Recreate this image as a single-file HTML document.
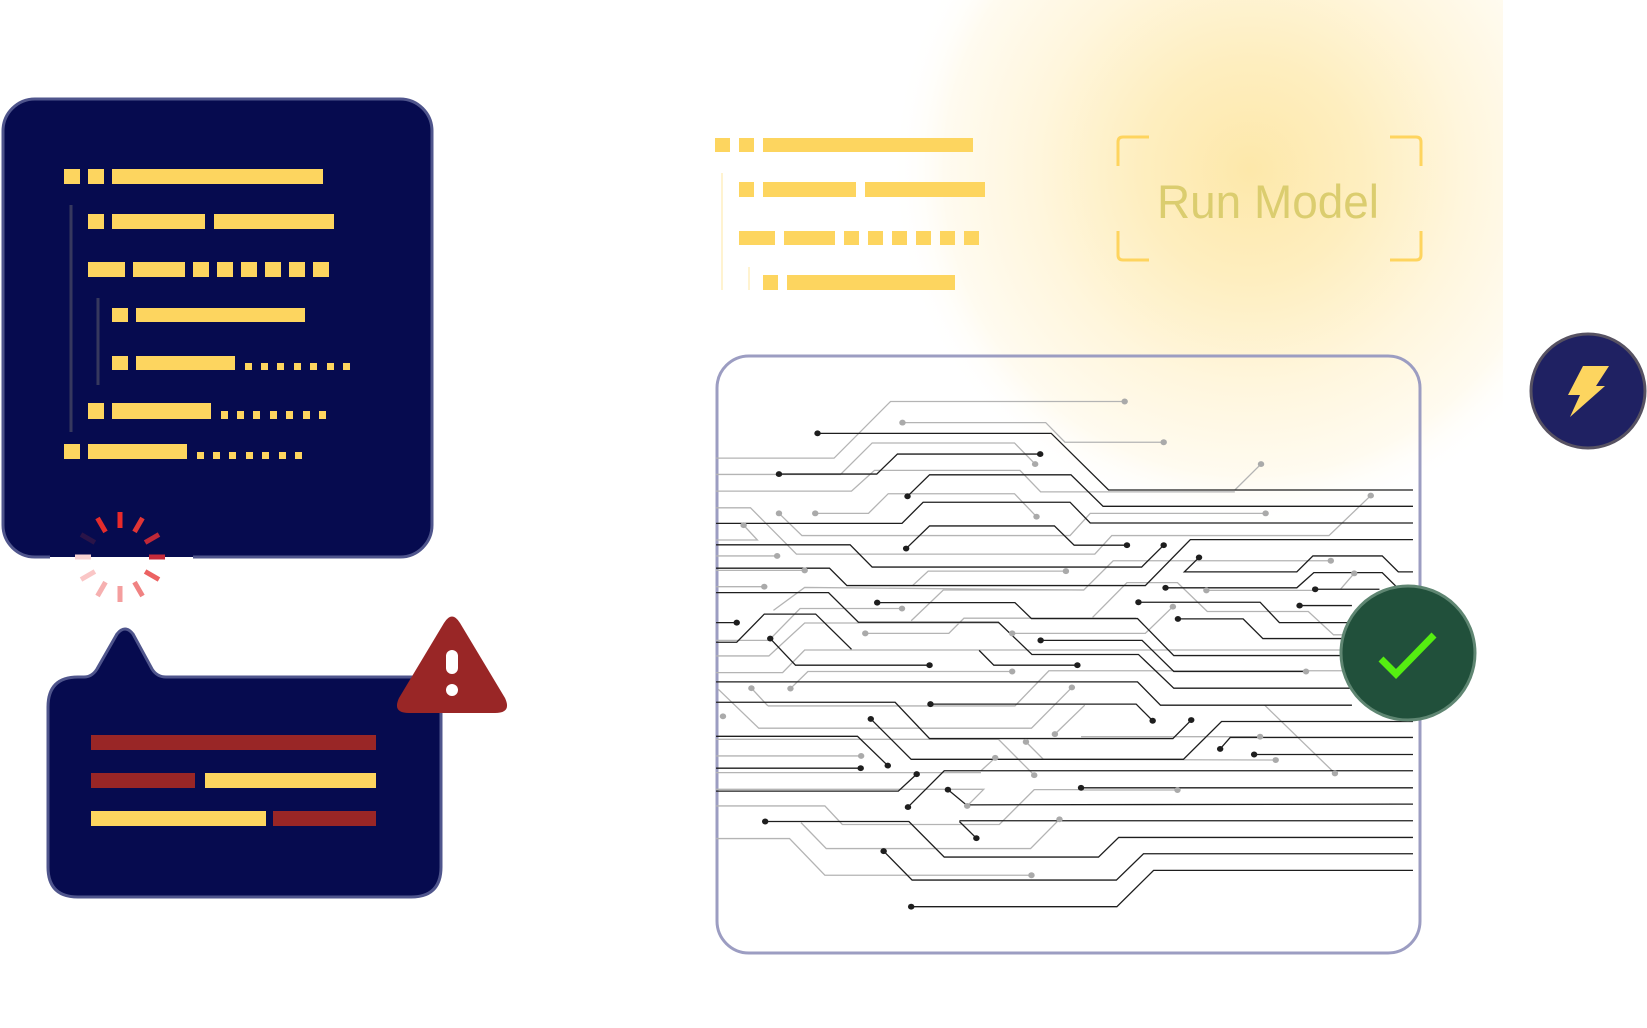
<!DOCTYPE html>
<html><head><meta charset="utf-8"><style>
html,body{margin:0;padding:0;background:#fff;}
body{width:1647px;height:1028px;position:relative;overflow:hidden;}
svg{position:absolute;left:0;top:0;}
</style></head><body>
<svg width="1647" height="1028" viewBox="0 0 1647 1028" xmlns="http://www.w3.org/2000/svg">
<defs>
<radialGradient id="glow" cx="1250" cy="170" r="360" gradientUnits="userSpaceOnUse">
<stop offset="0" stop-color="#fde8aa"/>
<stop offset="0.3" stop-color="#feeebf"/>
<stop offset="0.6" stop-color="#fff6dd"/>
<stop offset="0.85" stop-color="#fffbf0"/>
<stop offset="1" stop-color="#ffffff" stop-opacity="0"/>
</radialGradient>
</defs>
<rect x="700" y="0" width="803" height="950" fill="url(#glow)"/>

<!-- left code card -->
<rect x="3" y="99" width="429" height="458" rx="32" fill="#060b4f" stroke="#4f558c" stroke-width="3"/>
<rect x="50" y="553" width="143" height="4" fill="#060b4f"/>
<rect x="50" y="557" width="143" height="3" fill="#ffffff"/>
<g fill="#fdd55f">
<rect x="64" y="169" width="16" height="15"/><rect x="88" y="169" width="16" height="15"/><rect x="112" y="169" width="211" height="15"/>
<rect x="88" y="214" width="16" height="15"/><rect x="112" y="214" width="93" height="15"/><rect x="214" y="214" width="120" height="15"/>
<rect x="88" y="262" width="37" height="15"/><rect x="133" y="262" width="52" height="15"/>
<rect x="193" y="262" width="16" height="15"/><rect x="217" y="262" width="16" height="15"/><rect x="241" y="262" width="16" height="15"/><rect x="265" y="262" width="16" height="15"/><rect x="289" y="262" width="16" height="15"/><rect x="313" y="262" width="16" height="15"/>
<rect x="112" y="308" width="16" height="14"/><rect x="136" y="308" width="169" height="14"/>
<rect x="112" y="356" width="16" height="14"/><rect x="136" y="356" width="99" height="14"/>
<rect x="245" y="363" width="7" height="7"/><rect x="261" y="363" width="7" height="7"/><rect x="277" y="363" width="7" height="7"/><rect x="294" y="363" width="7" height="7"/><rect x="310" y="363" width="7" height="7"/><rect x="327" y="363" width="7" height="7"/><rect x="343" y="363" width="7" height="7"/>
<rect x="88" y="403" width="16" height="16"/><rect x="112" y="403" width="99" height="16"/>
<rect x="221" y="411" width="7" height="8"/><rect x="237" y="411" width="7" height="8"/><rect x="253" y="411" width="7" height="8"/><rect x="270" y="411" width="7" height="8"/><rect x="286" y="411" width="7" height="8"/><rect x="303" y="411" width="7" height="8"/><rect x="319" y="411" width="7" height="8"/>
<rect x="64" y="444" width="16" height="15"/><rect x="88" y="444" width="99" height="15"/>
<rect x="197" y="452" width="7" height="7"/><rect x="213" y="452" width="7" height="7"/><rect x="229" y="452" width="7" height="7"/><rect x="246" y="452" width="7" height="7"/><rect x="262" y="452" width="7" height="7"/><rect x="279" y="452" width="7" height="7"/><rect x="295" y="452" width="7" height="7"/>
</g>
<line x1="71" y1="205" x2="71" y2="432" stroke="#36385e" stroke-width="3"/>
<line x1="98" y1="298" x2="98" y2="385" stroke="#36385e" stroke-width="3"/>

<!-- spinner -->
<g transform="translate(120 557)" stroke-width="5">
<line x1="0" y1="-29" x2="0" y2="-45" stroke="#e82a2a" transform="rotate(0)"/>
<line x1="0" y1="-29" x2="0" y2="-45" stroke="#e03535" transform="rotate(30)"/>
<line x1="0" y1="-29" x2="0" y2="-45" stroke="#c02838" transform="rotate(60)"/>
<line x1="0" y1="-29" x2="0" y2="-45" stroke="#c52a3a" transform="rotate(90)"/>
<line x1="0" y1="-29" x2="0" y2="-45" stroke="#ec6262" transform="rotate(120)"/>
<line x1="0" y1="-29" x2="0" y2="-45" stroke="#f08282" transform="rotate(150)"/>
<line x1="0" y1="-29" x2="0" y2="-45" stroke="#f49e9e" transform="rotate(180)"/>
<line x1="0" y1="-29" x2="0" y2="-45" stroke="#f6b0b0" transform="rotate(210)"/>
<line x1="0" y1="-29" x2="0" y2="-45" stroke="#fac6c6" transform="rotate(240)"/>
<line x1="0" y1="-29" x2="0" y2="-45" stroke="#f8d2d2" transform="rotate(270)"/>
<line x1="0" y1="-29" x2="0" y2="-45" stroke="#2a1448" transform="rotate(300)"/>
<line x1="0" y1="-29" x2="0" y2="-45" stroke="#e32c2c" transform="rotate(330)"/>
</g>

<!-- speech bubble -->
<path d="M78 677 L84 677 Q92 677 97 669 L117 634 Q125 624 133 634 L152 669 Q157 677 166 677 L411 677 Q441 677 441 707 L441 867 Q441 897 411 897 L78 897 Q48 897 48 867 L48 707 Q48 677 78 677 Z" fill="#060b4f" stroke="#4f558c" stroke-width="3"/>
<rect x="91" y="735" width="285" height="15" fill="#992626"/>
<rect x="91" y="773" width="104" height="15" fill="#992626"/>
<rect x="205" y="773" width="171" height="15" fill="#fdd55f"/>
<rect x="91" y="811" width="175" height="15" fill="#fdd55f"/>
<rect x="273" y="811" width="103" height="15" fill="#992626"/>
<path d="M444 623 Q452 610 460 623 L505 698 Q512 713 495 713 L409 713 Q392 713 399 698 Z" fill="#992626"/>
<rect x="446" y="650" width="12" height="24" rx="6" fill="#fff"/>
<circle cx="452" cy="690" r="6" fill="#fff"/>

<!-- right code bars -->
<g fill="#fdd55f">
<rect x="715" y="138" width="15" height="14"/><rect x="739" y="138" width="15" height="14"/><rect x="763" y="138" width="210" height="14"/>
<rect x="739" y="182" width="15" height="15"/><rect x="763" y="182" width="93" height="15"/><rect x="865" y="182" width="120" height="15"/>
<rect x="739" y="231" width="36" height="14"/><rect x="784" y="231" width="51" height="14"/>
<rect x="844" y="231" width="15" height="14"/><rect x="868" y="231" width="15" height="14"/><rect x="892" y="231" width="15" height="14"/><rect x="916" y="231" width="15" height="14"/><rect x="940" y="231" width="15" height="14"/><rect x="964" y="231" width="15" height="14"/>
<rect x="763" y="275" width="15" height="15"/><rect x="787" y="275" width="168" height="15"/>
</g>
<line x1="722" y1="173" x2="722" y2="290" stroke="#fff3d0" stroke-width="2"/>
<line x1="749" y1="267" x2="749" y2="290" stroke="#fff3d0" stroke-width="2"/>

<!-- Run Model bracket -->
<g fill="none" stroke="#fed45e" stroke-width="3">
<path d="M1118 166 L1118 142 Q1118 137 1123 137 L1149 137"/>
<path d="M1390 137 L1416 137 Q1421 137 1421 142 L1421 166"/>
<path d="M1118 231 L1118 255 Q1118 260 1123 260 L1149 260"/>
<path d="M1390 260 L1416 260 Q1421 260 1421 255 L1421 231"/>
</g>
<text x="1268" y="218" text-anchor="middle" font-family="Liberation Sans, sans-serif" font-size="47" fill="#dbcd6f" textLength="222" lengthAdjust="spacingAndGlyphs">Run Model</text>

<!-- circuit panel -->
<rect x="717" y="356" width="703" height="597" rx="32" fill="none" stroke="#9c9dc2" stroke-width="3"/>
<g transform="translate(700 380) scale(0.4591 0.3704)" fill="none" stroke-linejoin="miter">
<g stroke="#b4b4b4" stroke-width="1.3">
<polyline vector-effect="non-scaling-stroke" points="35,211 292,211 415,58 925,58"/>
<polyline vector-effect="non-scaling-stroke" points="441,115 753,115 795,168 1010,168"/>
<polyline vector-effect="non-scaling-stroke" points="1165,297 1222,227"/>
<polyline vector-effect="non-scaling-stroke" points="35,255 306,255 375,170 685,170 730,227"/>
<polyline vector-effect="non-scaling-stroke" points="35,300 330,300 380,244 697,244 742,302 1165,302"/>
<polyline vector-effect="non-scaling-stroke" points="251,360 367,360 410,307 685,307 733,369"/>
<polyline vector-effect="non-scaling-stroke" points="172,360 222,420 806,420 850,360 1232,360"/>
<polyline vector-effect="non-scaling-stroke" points="35,345 110,345 210,470 860,470 897,420 1370,420 1461,312"/>
<polyline vector-effect="non-scaling-stroke" points="35,432 125,432 95,392"/>
<polyline vector-effect="non-scaling-stroke" points="35,475 168,475"/>
<polyline vector-effect="non-scaling-stroke" points="35,514 228,514"/>
<polyline vector-effect="non-scaling-stroke" points="35,558 140,558"/>
<polyline vector-effect="non-scaling-stroke" points="463,555 497,516 797,516"/>
<polyline vector-effect="non-scaling-stroke" points="160,622 228,560 836,567 900,488 1374,488"/>
<polyline vector-effect="non-scaling-stroke" points="1103,568 1338,568"/>
<polyline vector-effect="non-scaling-stroke" points="1395,565 1425,522"/>
<polyline vector-effect="non-scaling-stroke" points="35,703 150,703 218,617 440,617"/>
<polyline vector-effect="non-scaling-stroke" points="460,650 530,567 836,567"/>
<polyline vector-effect="non-scaling-stroke" points="855,641 930,547 1040,547 1105,625 1325,625 1380,688 1420,688"/>
<polyline vector-effect="non-scaling-stroke" points="360,684 542,684 575,643 950,643"/>
<polyline vector-effect="non-scaling-stroke" points="680,684 970,684 1030,612"/>
<polyline vector-effect="non-scaling-stroke" points="35,745 150,745 228,656 652,656"/>
<polyline vector-effect="non-scaling-stroke" points="35,790 180,790 228,729 1420,729"/>
<polyline vector-effect="non-scaling-stroke" points="197,833 235,787 680,787"/>
<polyline vector-effect="non-scaling-stroke" points="148,880 686,880 760,785 1420,785"/>
<polyline vector-effect="non-scaling-stroke" points="112,832 148,880"/>
<polyline vector-effect="non-scaling-stroke" points="40,835 128,940 722,940 810,830"/>
<polyline vector-effect="non-scaling-stroke" points="773,956 838,878"/>
<polyline vector-effect="non-scaling-stroke" points="830,963 1220,963"/>
<polyline vector-effect="non-scaling-stroke" points="1230,878 1383,1062"/>
<polyline vector-effect="non-scaling-stroke" points="35,1015 351,1015"/>
<polyline vector-effect="non-scaling-stroke" points="35,970 650,970 728,1067"/>
<polyline vector-effect="non-scaling-stroke" points="710,977 748,1024 1254,1026"/>
<polyline vector-effect="non-scaling-stroke" points="612,1055 643,1020"/>
<polyline vector-effect="non-scaling-stroke" points="830,1107 1040,1107"/>
<polyline vector-effect="non-scaling-stroke" points="35,1105 618,1105 582,1150"/>
<polyline vector-effect="non-scaling-stroke" points="35,1150 272,1150 310,1200 652,1200 728,1106 830,1106"/>
<polyline vector-effect="non-scaling-stroke" points="220,1195 275,1265 720,1265 783,1186"/>
<polyline vector-effect="non-scaling-stroke" points="35,1238 195,1238 272,1337 722,1337"/>
<polyline vector-effect="non-scaling-stroke" points="35,1060 612,1060"/>
</g>
<g stroke="#1e1e1e" stroke-width="1.3">
<polyline vector-effect="non-scaling-stroke" points="256,144 765,144 890,297 1553,297"/>
<polyline vector-effect="non-scaling-stroke" points="172,254 385,254 430,200 741,200"/>
<polyline vector-effect="non-scaling-stroke" points="452,314 500,256 808,256 878,341 1553,341"/>
<polyline vector-effect="non-scaling-stroke" points="35,387 440,387 486,330 806,330 850,386 1553,386"/>
<polyline vector-effect="non-scaling-stroke" points="449,455 500,394 772,394 815,446 930,446"/>
<polyline vector-effect="non-scaling-stroke" points="35,445 327,445 375,505 962,505 1010,446"/>
<polyline vector-effect="non-scaling-stroke" points="35,508 282,508 320,555 970,555 1068,431 1553,431"/>
<polyline vector-effect="non-scaling-stroke" points="1087,479 1055,518 1300,518 1335,475 1486,475 1521,518 1553,518"/>
<polyline vector-effect="non-scaling-stroke" points="1014,561 1300,561 1337,520 1486,520 1520,562"/>
<polyline vector-effect="non-scaling-stroke" points="1340,565 1480,565"/>
<polyline vector-effect="non-scaling-stroke" points="35,574 280,574 345,654 650,654 723,741 955,741 1032,832 1420,832"/>
<polyline vector-effect="non-scaling-stroke" points="386,601 686,601 722,644 953,644 1032,744 1420,744"/>
<polyline vector-effect="non-scaling-stroke" points="955,600 1220,600 1262,655 1420,655"/>
<polyline vector-effect="non-scaling-stroke" points="1041,645 1183,645 1226,698 1420,698"/>
<polyline vector-effect="non-scaling-stroke" points="1306,609 1420,609"/>
<polyline vector-effect="non-scaling-stroke" points="35,655 80,655"/>
<polyline vector-effect="non-scaling-stroke" points="35,708 80,708 140,632 252,632 330,727"/>
<polyline vector-effect="non-scaling-stroke" points="742,703 963,703 1032,787 1320,787"/>
<polyline vector-effect="non-scaling-stroke" points="153,698 208,770 500,770"/>
<polyline vector-effect="non-scaling-stroke" points="608,730 640,770 822,770"/>
<polyline vector-effect="non-scaling-stroke" points="35,815 953,815 1003,878 1420,878"/>
<polyline vector-effect="non-scaling-stroke" points="35,870 425,870 500,968 1030,968 1070,918"/>
<polyline vector-effect="non-scaling-stroke" points="502,875 950,875 986,920"/>
<polyline vector-effect="non-scaling-stroke" points="372,915 460,1024 1053,1024 1136,922 1553,922"/>
<polyline vector-effect="non-scaling-stroke" points="1133,996 1155,965 1553,965"/>
<polyline vector-effect="non-scaling-stroke" points="35,962 343,962 409,1041"/>
<polyline vector-effect="non-scaling-stroke" points="35,1048 350,1048"/>
<polyline vector-effect="non-scaling-stroke" points="1207,1011 1553,1011"/>
<polyline vector-effect="non-scaling-stroke" points="35,1110 432,1110 472,1064"/>
<polyline vector-effect="non-scaling-stroke" points="453,1153 532,1055 1553,1055"/>
<polyline vector-effect="non-scaling-stroke" points="830,1101 1553,1101"/>
<polyline vector-effect="non-scaling-stroke" points="540,1106 580,1147 1553,1145"/>
<polyline vector-effect="non-scaling-stroke" points="142,1192 455,1192 532,1288 868,1288 912,1235 1553,1235"/>
<polyline vector-effect="non-scaling-stroke" points="565,1190 1553,1190"/>
<polyline vector-effect="non-scaling-stroke" points="565,1192 602,1237"/>
<polyline vector-effect="non-scaling-stroke" points="400,1272 462,1350 907,1350 966,1279 1553,1279"/>
<polyline vector-effect="non-scaling-stroke" points="460,1422 908,1422 988,1324 1553,1324"/>
</g>
<g fill="#1e1e1e" stroke="none">
<ellipse cx="256" cy="144" rx="7" ry="8"/><ellipse cx="172" cy="254" rx="7" ry="8"/><ellipse cx="741" cy="200" rx="7" ry="8"/>
<ellipse cx="452" cy="314" rx="7" ry="8"/><ellipse cx="449" cy="455" rx="7" ry="8"/><ellipse cx="930" cy="446" rx="7" ry="8"/>
<ellipse cx="1010" cy="446" rx="7" ry="8"/><ellipse cx="1087" cy="479" rx="7" ry="8"/><ellipse cx="1014" cy="561" rx="7" ry="8"/>
<ellipse cx="1340" cy="565" rx="7" ry="8"/><ellipse cx="386" cy="601" rx="7" ry="8"/><ellipse cx="955" cy="600" rx="7" ry="8"/>
<ellipse cx="1041" cy="645" rx="7" ry="8"/><ellipse cx="1306" cy="609" rx="7" ry="8"/><ellipse cx="80" cy="655" rx="7" ry="8"/>
<ellipse cx="742" cy="703" rx="7" ry="8"/><ellipse cx="153" cy="698" rx="7" ry="8"/><ellipse cx="500" cy="770" rx="7" ry="8"/>
<ellipse cx="822" cy="770" rx="7" ry="8"/><ellipse cx="502" cy="875" rx="7" ry="8"/><ellipse cx="986" cy="920" rx="7" ry="8"/>
<ellipse cx="1070" cy="918" rx="7" ry="8"/><ellipse cx="372" cy="915" rx="7" ry="8"/><ellipse cx="1133" cy="996" rx="7" ry="8"/>
<ellipse cx="409" cy="1041" rx="7" ry="8"/><ellipse cx="350" cy="1048" rx="7" ry="8"/><ellipse cx="1207" cy="1011" rx="7" ry="8"/>
<ellipse cx="472" cy="1064" rx="7" ry="8"/><ellipse cx="453" cy="1153" rx="7" ry="8"/><ellipse cx="830" cy="1101" rx="7" ry="8"/>
<ellipse cx="540" cy="1106" rx="7" ry="8"/><ellipse cx="142" cy="1192" rx="7" ry="8"/><ellipse cx="602" cy="1237" rx="7" ry="8"/>
<ellipse cx="400" cy="1272" rx="7" ry="8"/><ellipse cx="460" cy="1422" rx="7" ry="8"/>
</g>
<g fill="#aaa" stroke="none">
<ellipse cx="925" cy="58" rx="7" ry="8"/><ellipse cx="441" cy="115" rx="7" ry="8"/><ellipse cx="1010" cy="168" rx="7" ry="8"/>
<ellipse cx="1222" cy="227" rx="7" ry="8"/><ellipse cx="730" cy="227" rx="7" ry="8"/><ellipse cx="251" cy="360" rx="7" ry="8"/>
<ellipse cx="733" cy="369" rx="7" ry="8"/><ellipse cx="172" cy="360" rx="7" ry="8"/><ellipse cx="1232" cy="360" rx="7" ry="8"/>
<ellipse cx="1461" cy="312" rx="7" ry="8"/><ellipse cx="95" cy="392" rx="7" ry="8"/><ellipse cx="168" cy="475" rx="7" ry="8"/>
<ellipse cx="228" cy="514" rx="7" ry="8"/><ellipse cx="140" cy="558" rx="7" ry="8"/><ellipse cx="797" cy="516" rx="7" ry="8"/>
<ellipse cx="1374" cy="488" rx="7" ry="8"/><ellipse cx="1103" cy="568" rx="7" ry="8"/><ellipse cx="1425" cy="522" rx="7" ry="8"/>
<ellipse cx="440" cy="617" rx="7" ry="8"/><ellipse cx="360" cy="684" rx="7" ry="8"/><ellipse cx="680" cy="684" rx="7" ry="8"/>
<ellipse cx="1030" cy="612" rx="7" ry="8"/><ellipse cx="680" cy="787" rx="7" ry="8"/><ellipse cx="197" cy="833" rx="7" ry="8"/>
<ellipse cx="112" cy="832" rx="7" ry="8"/><ellipse cx="810" cy="830" rx="7" ry="8"/><ellipse cx="773" cy="956" rx="7" ry="8"/>
<ellipse cx="1220" cy="963" rx="7" ry="8"/><ellipse cx="1383" cy="1062" rx="7" ry="8"/><ellipse cx="351" cy="1015" rx="7" ry="8"/>
<ellipse cx="728" cy="1067" rx="7" ry="8"/><ellipse cx="710" cy="977" rx="7" ry="8"/><ellipse cx="1254" cy="1026" rx="7" ry="8"/>
<ellipse cx="643" cy="1020" rx="7" ry="8"/><ellipse cx="1040" cy="1107" rx="7" ry="8"/><ellipse cx="582" cy="1150" rx="7" ry="8"/>
<ellipse cx="783" cy="1186" rx="7" ry="8"/><ellipse cx="722" cy="1337" rx="7" ry="8"/><ellipse cx="1320" cy="787" rx="7" ry="8"/>
<ellipse cx="50" cy="908" rx="7" ry="8"/>
</g>
</g>

<!-- check circle -->
<circle cx="1408" cy="653" r="67" fill="#21503b" stroke="#5f8672" stroke-width="3"/>
<polyline points="1381,659 1396,674 1434,635" fill="none" stroke="#55ee11" stroke-width="7"/>

<!-- lightning circle -->
<circle cx="1588" cy="391" r="57" fill="#1f2162" stroke="#575262" stroke-width="3"/>
<polygon points="1583,366 1609,366 1596,386 1605,386 1570,417 1580,395 1568,395" fill="#fdd55f"/>
</svg>
</body></html>
